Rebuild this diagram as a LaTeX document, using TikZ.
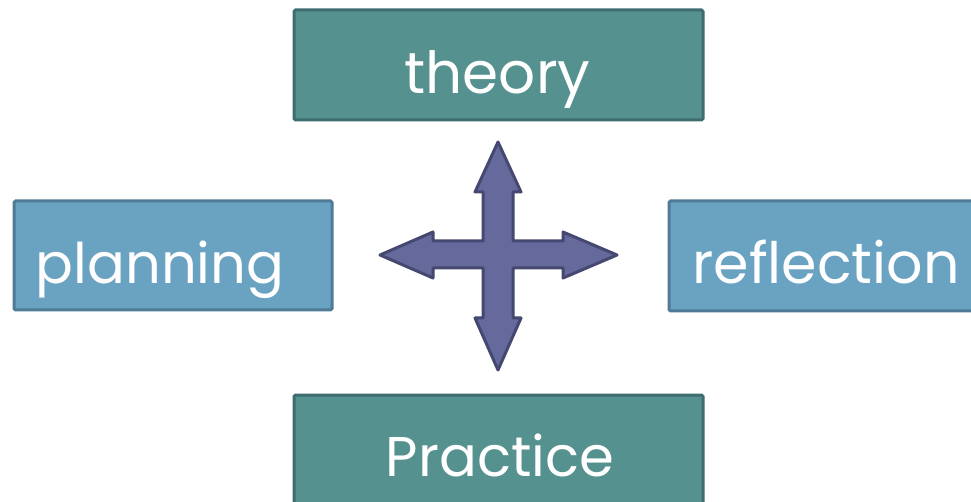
\documentclass[tikz,border=0pt]{standalone}
\usepackage{fontspec}
\setmainfont{Poppins}
\definecolor{tealfill}{HTML}{55918F}
\definecolor{tealdraw}{HTML}{3E6D71}
\definecolor{bluefill}{HTML}{6AA2C2}
\definecolor{bluedraw}{HTML}{4F7B96}
\definecolor{crossfill}{HTML}{65699B}
\definecolor{crossdraw}{HTML}{454870}
\tikzset{
  tealbox/.style={draw=tealdraw,fill=tealfill,line width=3pt,rounded corners=1.5pt},
  bluebox/.style={draw=bluedraw,fill=bluefill,line width=3pt,rounded corners=1.5pt},
  lbl/.style={text=white,anchor=base,inner sep=0pt},
}
\begin{document}
\begin{tikzpicture}[x=1pt,y=-1pt]
\useasboundingbox (0,0) rectangle (971,502);
\clip (0,0) rectangle (971,502);
\fill[white] (0,0) rectangle (971,502);
% boxes
\draw[tealbox] (294,10) rectangle (703,120) coordinate (theorybox);
\draw[bluebox] (14,201) rectangle (332,310) coordinate (planbox);
\draw[bluebox] (669,201) rectangle (990,311) coordinate (reflbox);
\draw[tealbox] (294,395) rectangle (703,530) coordinate (practbox);
% labels
\node[lbl,font=\fontsize{58}{60}\selectfont] (theory) at (497.5,94) {theory};
\node[lbl,font=\fontsize{56}{60}\selectfont] (planning) at (160,284) {planning};
\node[lbl,font=\fontsize{57}{60}\selectfont] (reflection) at (826,284) {reflection};
\node[lbl,font=\fontsize{56}{60}\selectfont] (practice) at (500,476) {Practice};
% cross arrow
\draw[fill=crossfill,draw=crossdraw,line width=3pt,line join=round]
  (498,142) -- (521,192) -- (513,192) -- (513,241) -- (563,241) -- (563,232)
  -- (617,255) -- (563,278) -- (563,268) -- (513,268) -- (513,318) -- (521,318)
  -- (498,370) -- (475,318) -- (483,318) -- (483,268) -- (433,268) -- (433,278)
  -- (380,255) -- (433,232) -- (433,241) -- (483,241) -- (483,192) -- (475,192) -- cycle;
\end{tikzpicture}
\end{document}
